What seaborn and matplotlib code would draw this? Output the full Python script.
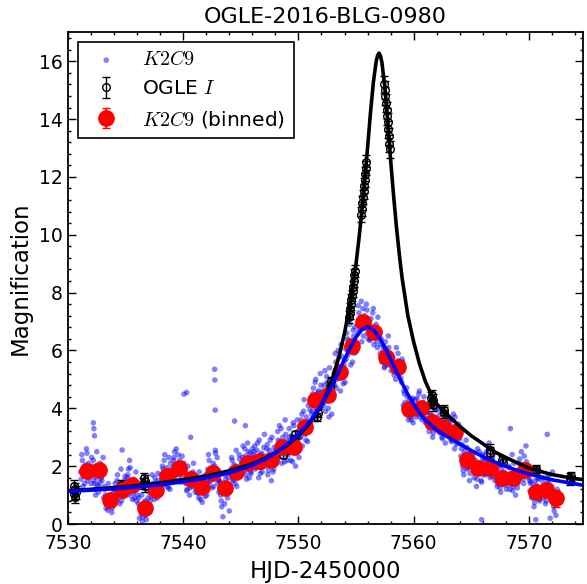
import matplotlib
matplotlib.use("Agg")
import matplotlib.pyplot as plt
from matplotlib.ticker import MultipleLocator
import seaborn as sns

# --- model curves ---
OGLE_MODEL_T = [7530, 7532, 7534, 7536, 7538, 7540, 7542, 7544, 7546, 7547, 7548, 7549,
                7550, 7551, 7552, 7552.5, 7553, 7553.5, 7554, 7554.5, 7555, 7555.25, 7555.5,
                7555.75, 7556, 7556.25, 7556.5, 7556.75, 7556.875, 7557, 7557.125, 7557.25,
                7557.5, 7557.75, 7558, 7558.25, 7558.5, 7558.75, 7559, 7559.5, 7560, 7560.5,
                7561, 7561.5, 7562, 7563, 7564, 7565, 7566, 7567, 7568, 7570, 7572, 7574, 7575]
OGLE_MODEL_A = [1.15, 1.20, 1.26, 1.33, 1.42, 1.53, 1.66, 1.84, 2.08, 2.25, 2.46, 2.72,
                3.05, 3.50, 4.10, 4.55, 5.10, 5.75, 6.60, 7.65, 9.00, 9.85, 10.80,
                11.90, 13.00, 14.20, 15.25, 16.00, 16.20, 16.28, 16.18, 15.95,
                15.10, 13.90, 12.60, 11.40, 10.30, 9.35, 8.50, 7.20, 6.30, 5.55,
                4.95, 4.50, 4.15, 3.75, 3.38, 3.05, 2.78, 2.50, 2.30, 1.93, 1.71, 1.57, 1.52]

K2_MODEL_T = [7530, 7532, 7534, 7536, 7538, 7540, 7542, 7544, 7546, 7547, 7548, 7549,
              7550, 7551, 7552, 7552.5, 7553, 7553.5, 7554, 7554.5, 7555, 7555.5, 7556,
              7556.5, 7557, 7557.5, 7558, 7558.5, 7559, 7559.5, 7560, 7560.5, 7561, 7562,
              7563, 7564, 7565, 7566, 7567, 7568, 7569, 7570, 7572, 7574, 7575]
K2_MODEL_A = [1.13, 1.17, 1.22, 1.28, 1.36, 1.46, 1.59, 1.77, 2.03, 2.22, 2.45, 2.75,
              3.12, 3.55, 4.12, 4.48, 4.85, 5.27, 5.70, 6.10, 6.46, 6.72, 6.82,
              6.72, 6.46, 6.10, 5.70, 5.27, 4.87, 4.48, 4.15, 3.85, 3.60, 3.25,
              3.00, 2.77, 2.54, 2.33, 2.15, 1.99, 1.85, 1.73, 1.53, 1.39, 1.32]

# --- K2C9 photometry: rows of magnifications per day, two interleaved cadence sets ---
K2_DAYS = list(range(7531, 7573))
K2_SLOTS_A = [0.15, 0.25, 0.35, 0.45, 0.55, 0.65, 0.75, 0.85, 0.95, 1.05]
K2_ROWS_A = [
    [1.55, 2.2, 1.9, 1.4, 2.05, 2.45, 1.7, 1.6, 1.95, 2.3],
    [2.0, 1.5, 1.2, 1.6, 1.35, 1.1, 1.45, 1.9, 1.5, 2.3],
    [1.3, 1.0, 0.7, 0.48, 0.6, 0.95, 0.75, 0.55, 1.1, 0.85],
    [1.2, 1.5, 0.9, 1.0, 1.35, 0.8, 1.1, 0.95, 1.65, 1.25],
    [1.6, 1.9, 2.2, 1.5, 1.2, 1.05, 0.9, 1.3, 0.8, 1.0],
    [0.9, 0.6, 0.35, 0.1, 0.4, 0.75, 0.3, 0.55, 0.9, 0.45],
    [0.8, 1.1, 1.4, 1.0, 1.6, 1.3, 0.9, 1.5, 1.05, 1.2],
    [1.5, 1.9, 2.2, 1.4, 1.75, 1.3, 2.3, 1.2, 1.5, 1.8],
    [2.2, 2.5, 1.7, 1.9, 2.4, 1.5, 1.8, 1.6, 1.85, 2.1],
    [1.9, 1.4, 1.2, 1.7, 1.0, 1.5, 1.3, 1.8, 1.6, 1.1],
    [1.6, 1.1, 0.9, 1.4, 1.25, 0.75, 1.5, 1.3, 1.7, 1.0],
    [1.9, 2.2, 1.5, 1.6, 1.7, 1.3, 2.0, 1.8, 2.3, 1.55],
    [1.5, 1.0, 0.6, 0.25, 1.3, 1.7, 1.4, 0.9, 1.6, 1.2],
    [1.9, 2.2, 1.5, 1.7, 2.0, 1.3, 1.6, 2.4, 1.8, 2.1],
    [2.3, 1.9, 2.6, 1.7, 2.0, 2.5, 1.6, 1.8, 2.2, 2.4],
    [2.5, 1.9, 2.3, 2.8, 1.6, 2.1, 2.4, 1.8, 2.2, 3.1],
    [2.0, 2.6, 1.7, 2.4, 2.9, 1.5, 2.2, 1.9, 2.5, 2.3],
    [2.3, 2.9, 3.4, 2.5, 2.1, 3.0, 2.7, 3.6, 2.4, 2.2],
    [2.4, 3.0, 2.2, 2.9, 3.5, 2.6, 2.0, 2.8, 3.2, 2.3],
    [3.0, 3.6, 2.7, 3.9, 3.3, 2.9, 3.5, 4.1, 3.2, 3.5],
    [3.8, 4.5, 4.1, 4.9, 3.6, 4.3, 4.6, 4.0, 4.8, 4.4],
    [4.2, 4.8, 3.9, 5.1, 4.5, 3.7, 4.6, 5.0, 4.3, 4.5],
    [4.8, 5.6, 5.0, 6.0, 5.3, 4.6, 5.8, 5.1, 5.5, 4.9],
    [5.7, 6.4, 6.0, 6.9, 5.5, 6.3, 6.7, 5.9, 6.2, 6.0],
    [6.6, 7.3, 6.9, 7.7, 7.0, 6.5, 7.2, 6.8, 7.4, 6.4],
    [7.0, 6.4, 6.8, 7.3, 6.2, 6.6, 6.9, 6.1, 6.5, 6.7],
    [6.2, 5.6, 6.0, 5.4, 6.3, 5.8, 5.5, 6.1, 5.7, 5.3],
    [5.8, 5.3, 5.6, 5.0, 5.5, 5.9, 5.2, 5.4, 4.9, 5.6],
    [4.6, 4.2, 3.8, 4.4, 3.6, 4.0, 3.7, 4.3, 3.5, 3.9],
    [4.3, 3.8, 4.1, 4.5, 3.7, 4.0, 3.6, 4.2, 3.9, 3.5],
    [3.9, 3.5, 3.2, 3.8, 3.4, 3.0, 3.7, 3.6, 3.3, 4.0],
    [3.6, 3.2, 3.9, 3.0, 3.5, 3.3, 2.8, 3.7, 3.4, 3.1],
    [3.5, 2.9, 3.3, 3.8, 2.6, 3.1, 3.4, 2.8, 3.0, 3.2],
    [2.6, 2.0, 1.7, 2.4, 2.9, 1.9, 2.2, 1.5, 2.5, 2.3],
    [2.3, 1.6, 2.0, 1.3, 2.6, 1.8, 2.1, 1.5, 2.4, 1.7],
    [2.2, 1.7, 2.5, 1.9, 2.8, 1.6, 2.0, 2.3, 1.8, 1.5],
    [1.9, 1.3, 1.6, 2.1, 1.1, 1.7, 1.4, 1.8, 1.5, 1.2],
    [1.5, 2.0, 1.2, 1.7, 2.4, 1.3, 1.6, 1.0, 1.8, 1.4],
    [2.1, 1.6, 2.5, 1.8, 1.4, 2.0, 2.7, 1.7, 1.9, 1.5],
    [1.4, 0.9, 1.2, 0.6, 1.5, 1.0, 1.3, 1.6, 0.8, 1.1],
    [1.5, 0.9, 1.3, 0.7, 1.6, 1.1, 1.4, 0.2, 1.2, 1.8],
    [0.6, 1.1, 0.3, 1.2, 0.9],
]
K2_SLOTS_B = [0.1, 0.2, 0.3, 0.4, 0.5, 0.6, 0.7, 0.8, 0.9, 1.0]
K2_ROWS_B = [
    [1.8, 2.4, 1.3, 2.0, 1.7, 2.6, 1.5, 2.1, 1.9, 1.4],
    [1.7, 2.2, 1.4, 1.0, 2.5, 1.8, 1.3, 2.1, 1.6, 2.0],
    [0.9, 1.2, 0.55, 0.8, 1.4, 0.65, 1.0, 0.4, 0.7, 1.2],
    [1.4, 0.85, 1.7, 1.1, 0.7, 1.9, 1.3, 1.0, 1.5, 1.15],
    [1.4, 1.7, 1.0, 1.95, 1.25, 0.85, 1.55, 1.15, 1.8, 1.35],
    [0.7, 0.2, 0.5, 1.0, 0.25, 0.65, 0.8, 0.15, 0.6, 1.1],
    [1.3, 0.95, 1.7, 1.15, 0.85, 1.45, 1.25, 1.75, 1.0, 1.35],
    [1.7, 2.0, 1.35, 2.4, 1.6, 1.95, 1.25, 1.85, 2.1, 1.45],
    [1.95, 2.3, 1.6, 2.6, 2.0, 1.75, 2.2, 1.45, 2.35, 1.9],
    [1.45, 1.85, 1.15, 2.0, 1.6, 1.25, 1.75, 1.35, 2.1, 1.5],
    [1.2, 1.55, 1.05, 1.8, 0.85, 1.35, 1.1, 1.65, 0.95, 1.45],
    [1.7, 2.4, 1.45, 1.95, 1.25, 2.1, 1.65, 2.45, 1.85, 1.4],
    [1.1, 1.45, 0.8, 1.75, 1.25, 0.7, 1.55, 1.05, 1.35, 0.45],
    [1.75, 2.3, 1.55, 2.05, 1.4, 2.55, 1.85, 1.65, 2.25, 1.95],
    [2.1, 2.7, 1.85, 2.35, 1.55, 2.8, 2.05, 2.45, 1.75, 2.6],
    [2.3, 2.7, 1.95, 2.55, 2.05, 2.9, 1.75, 2.45, 2.15, 2.65],
    [2.35, 2.05, 2.75, 1.85, 2.55, 2.15, 3.0, 1.8, 2.65, 2.45],
    [2.6, 3.2, 2.35, 2.85, 3.3, 2.55, 2.75, 2.15, 3.1, 2.9],
    [2.7, 3.3, 2.5, 3.05, 2.15, 3.4, 2.85, 2.45, 3.6, 2.95],
    [3.4, 3.0, 3.8, 3.25, 4.3, 3.1, 3.7, 2.85, 3.55, 3.95],
    [4.2, 3.9, 4.7, 4.35, 5.0, 3.75, 4.55, 4.15, 5.2, 4.0],
    [4.6, 4.1, 5.3, 4.4, 4.9, 4.0, 5.4, 4.7, 3.8, 4.95],
    [5.2, 5.9, 4.7, 5.45, 5.75, 5.05, 6.2, 5.35, 4.85, 5.65],
    [6.05, 6.6, 5.85, 6.35, 7.1, 6.15, 5.6, 6.5, 6.8, 5.95],
    [6.9, 7.55, 6.7, 7.15, 6.3, 7.45, 7.05, 6.85, 7.6, 6.6],
    [6.85, 6.35, 7.1, 6.55, 7.45, 6.45, 6.75, 6.3, 7.15, 6.6],
    [5.9, 6.4, 5.75, 6.15, 5.45, 6.05, 5.65, 6.5, 5.85, 5.5],
    [5.45, 5.75, 5.15, 5.55, 6.1, 5.25, 5.65, 5.35, 5.05, 5.7],
    [4.1, 4.5, 3.9, 4.7, 3.75, 4.25, 4.05, 3.6, 4.35, 3.85],
    [4.05, 3.7, 4.35, 3.95, 4.6, 3.85, 4.15, 3.75, 4.4, 3.65],
    [3.55, 3.85, 3.35, 4.1, 3.45, 3.75, 3.15, 3.65, 3.95, 3.25],
    [3.35, 3.75, 3.15, 3.55, 2.95, 3.45, 3.85, 3.25, 3.6, 3.05],
    [3.15, 3.6, 2.85, 3.35, 3.05, 3.7, 2.75, 3.25, 3.45, 2.95],
    [2.35, 2.75, 1.85, 2.5, 2.1, 2.65, 1.95, 2.45, 1.75, 2.15],
    [1.95, 2.45, 1.75, 2.2, 1.55, 2.05, 2.5, 1.85, 1.45, 2.25],
    [1.95, 2.4, 1.75, 2.15, 2.6, 1.85, 2.25, 1.65, 2.05, 2.45],
    [1.65, 2.0, 1.4, 1.75, 1.25, 1.9, 1.55, 2.2, 1.35, 1.7],
    [1.65, 1.35, 1.95, 1.45, 1.75, 1.15, 2.1, 1.55, 1.85, 1.25],
    [1.85, 2.25, 1.65, 2.05, 1.55, 2.35, 1.75, 2.15, 1.95, 1.6],
    [1.15, 1.45, 0.95, 1.25, 0.75, 1.35, 1.05, 1.55, 0.85, 1.2],
    [1.25, 1.6, 1.0, 1.35, 0.8, 1.45, 1.15, 1.7, 0.95, 1.3],
    [0.85, 0.45, 1.0, 0.7, 0.95],
]
# isolated outliers
K2_OUT_T = [7532.2, 7532.25, 7532.3, 7534.7, 7540.07, 7540.3, 7540.65, 7542.73, 7542.75,
            7542.78, 7542.8, 7544.46, 7545.4, 7565.9, 7568.4, 7570.6, 7571.6]
K2_OUT_M = [3.5, 3.3, 3.05, 2.56, 4.49, 4.55, 3.0, 5.35, 4.98,
            3.94, 2.55, 3.56, 3.4, 0.15, 3.3, 0.15, 3.1]

# --- OGLE I-band ---
OGLE_T = [7530.50, 7530.55, 7530.60, 7530.65, 7530.70, 7534.60, 7534.65,
          7536.55, 7536.60, 7536.65, 7536.70, 7546.60, 7546.70, 7547.60, 7547.70,
          7548.70, 7548.80, 7549.60, 7549.70, 7550.60, 7550.70, 7551.60, 7551.70,
          7552.70, 7552.80,
          7554.40, 7554.45, 7554.50, 7554.55, 7554.60, 7554.65, 7554.70, 7554.75,
          7554.80, 7554.85, 7554.90,
          7555.45, 7555.50, 7555.55, 7555.60, 7555.65, 7555.70, 7555.75, 7555.80,
          7555.85, 7555.90,
          7557.45, 7557.50, 7557.55, 7557.60, 7557.65, 7557.70, 7557.75, 7557.80,
          7557.85, 7557.90, 7557.95,
          7561.50, 7561.55, 7561.60, 7561.65, 7561.70, 7562.60, 7562.65,
          7566.60, 7566.65, 7567.70, 7567.75, 7569.50, 7569.55, 7570.60, 7570.65,
          7573.55, 7573.60, 7573.65]
OGLE_M = [1.30, 1.05, 1.20, 0.95, 1.10, 1.35, 1.25,
          1.40, 1.60, 1.30, 1.50, 2.15, 2.05, 2.20, 2.30,
          2.40, 2.55, 2.95, 3.10, 3.30, 3.40, 3.70, 3.85,
          4.75, 4.95,
          7.15, 7.30, 7.45, 7.60, 7.75, 7.90, 8.05, 8.20,
          8.40, 8.60, 8.75,
          10.70, 10.90, 11.10, 11.30, 11.50, 11.70, 11.90, 12.10,
          12.30, 12.50,
          15.20, 15.00, 14.80, 14.55, 14.30, 14.10, 13.90, 13.65,
          13.40, 13.15, 12.95,
          4.35, 4.20, 4.45, 4.10, 4.30, 3.95, 3.85,
          2.55, 2.45, 2.20, 2.15, 1.90, 1.95, 1.85, 1.90,
          1.60, 1.50, 1.65]
OGLE_ERR = [0.22] * 5 + [0.18] * 6 + [0.12] * 10 + [0.14] * 2 + [0.15] * 2 \
    + [0.2] * 11 + [0.25] * 10 + [0.3] * 11 + [0.2] * 5 + [0.18] * 2 \
    + [0.2] * 2 + [0.15] * 9

# --- K2C9 binned ---
BIN_T = [7531.65, 7532.7, 7533.66, 7534.65, 7535.6, 7536.67, 7537.6, 7538.63, 7539.64,
         7540.65, 7541.66, 7542.61, 7543.6, 7544.6, 7545.6, 7546.56, 7547.58, 7548.6,
         7549.6, 7550.6, 7551.47, 7552.6, 7553.64, 7554.65, 7555.6, 7556.6, 7557.62,
         7558.63, 7559.64, 7560.6, 7561.57, 7562.58, 7563.6, 7564.6, 7565.6, 7566.62,
         7567.64, 7568.64, 7569.65, 7570.6, 7571.53, 7572.34]
BIN_M = [1.83, 1.87, 0.83, 1.18, 1.35, 0.54, 1.18, 1.66, 1.93,
         1.56, 1.27, 1.78, 1.23, 1.81, 2.10, 2.18, 2.21, 2.68,
         2.68, 3.37, 4.29, 4.46, 5.27, 6.14, 6.98, 6.65, 5.79,
         5.42, 3.97, 4.00, 3.54, 3.37, 3.19, 2.21, 1.93, 1.93,
         1.58, 1.58, 1.87, 1.12, 1.18, 0.89]
BIN_ERR = [0.1] * 39 + [0.15, 0.18, 0.3]

k2_t, k2_m = [], []
for slots, rows in ((K2_SLOTS_A, K2_ROWS_A), (K2_SLOTS_B, K2_ROWS_B)):
    for day, row in zip(K2_DAYS, rows):
        for slot, m in zip(slots, row):
            k2_t.append(day + slot)
            k2_m.append(m)
k2_t += K2_OUT_T
k2_m += K2_OUT_M

sns.set_style("ticks")
plt.rcParams["font.family"] = ["DejaVu Sans"]
plt.rcParams["mathtext.fontset"] = "cm"
for key in ("text.color", "axes.labelcolor", "xtick.color", "ytick.color"):
    plt.rcParams[key] = "black"

fig = plt.figure(figsize=(5.87, 5.84), dpi=100)
ax = fig.add_axes([0.1158, 0.1027, 0.8774, 0.842])

sns.scatterplot(x=k2_t, y=k2_m, color="blue", s=16, alpha=0.5, edgecolor="none",
                ax=ax, label="$K2C9$", zorder=1)
ax.errorbar(OGLE_T, OGLE_M, yerr=OGLE_ERR, fmt="o", mfc="none", mec="k", ecolor="k",
            ms=5.5, mew=1, elinewidth=1, capsize=3, label="OGLE $I$", zorder=3)
ax.errorbar(BIN_T, BIN_M, yerr=BIN_ERR, fmt="o", color="red", mec="red", ecolor="red",
            ms=11, elinewidth=1.2, capsize=3, label="$K2C9$ (binned)", zorder=4)
sns.lineplot(x=OGLE_MODEL_T, y=OGLE_MODEL_A, color="k", lw=2.6, ax=ax, sort=False,
             estimator=None, legend=False, zorder=5)
sns.lineplot(x=K2_MODEL_T, y=K2_MODEL_A, color="blue", lw=2.6, ax=ax, sort=False,
             estimator=None, legend=False, zorder=6)

ax.set_xlim(7530, 7574.7)
ax.set_ylim(0, 17)
ax.xaxis.set_major_locator(MultipleLocator(10))
ax.xaxis.set_minor_locator(MultipleLocator(2))
ax.yaxis.set_major_locator(MultipleLocator(2))
ax.yaxis.set_minor_locator(MultipleLocator(0.4))
ax.tick_params(which="both", direction="in", top=True, right=True, width=1, color="k")
ax.tick_params(which="major", length=5.5)
ax.tick_params(which="minor", length=2.5)
ax.tick_params(axis="x", labelsize=13.5, pad=7)
ax.tick_params(axis="y", labelsize=13.5, pad=4)
for sp in ax.spines.values():
    sp.set_linewidth(1.3)
    sp.set_color("k")

ax.set_xlabel("HJD-2450000", fontsize=16.5, labelpad=5)
ax.set_ylabel("Magnification", fontsize=16.5, labelpad=5)
ax.set_title("OGLE-2016-BLG-0980", fontsize=16, pad=7)

leg = ax.legend(loc="upper left", fontsize=14.5, frameon=True, fancybox=False,
                edgecolor="k", framealpha=1, numpoints=1, scatterpoints=1,
                borderaxespad=0.5)
leg.get_frame().set_linewidth(1.2)

fig.savefig("out.png", dpi=100)
